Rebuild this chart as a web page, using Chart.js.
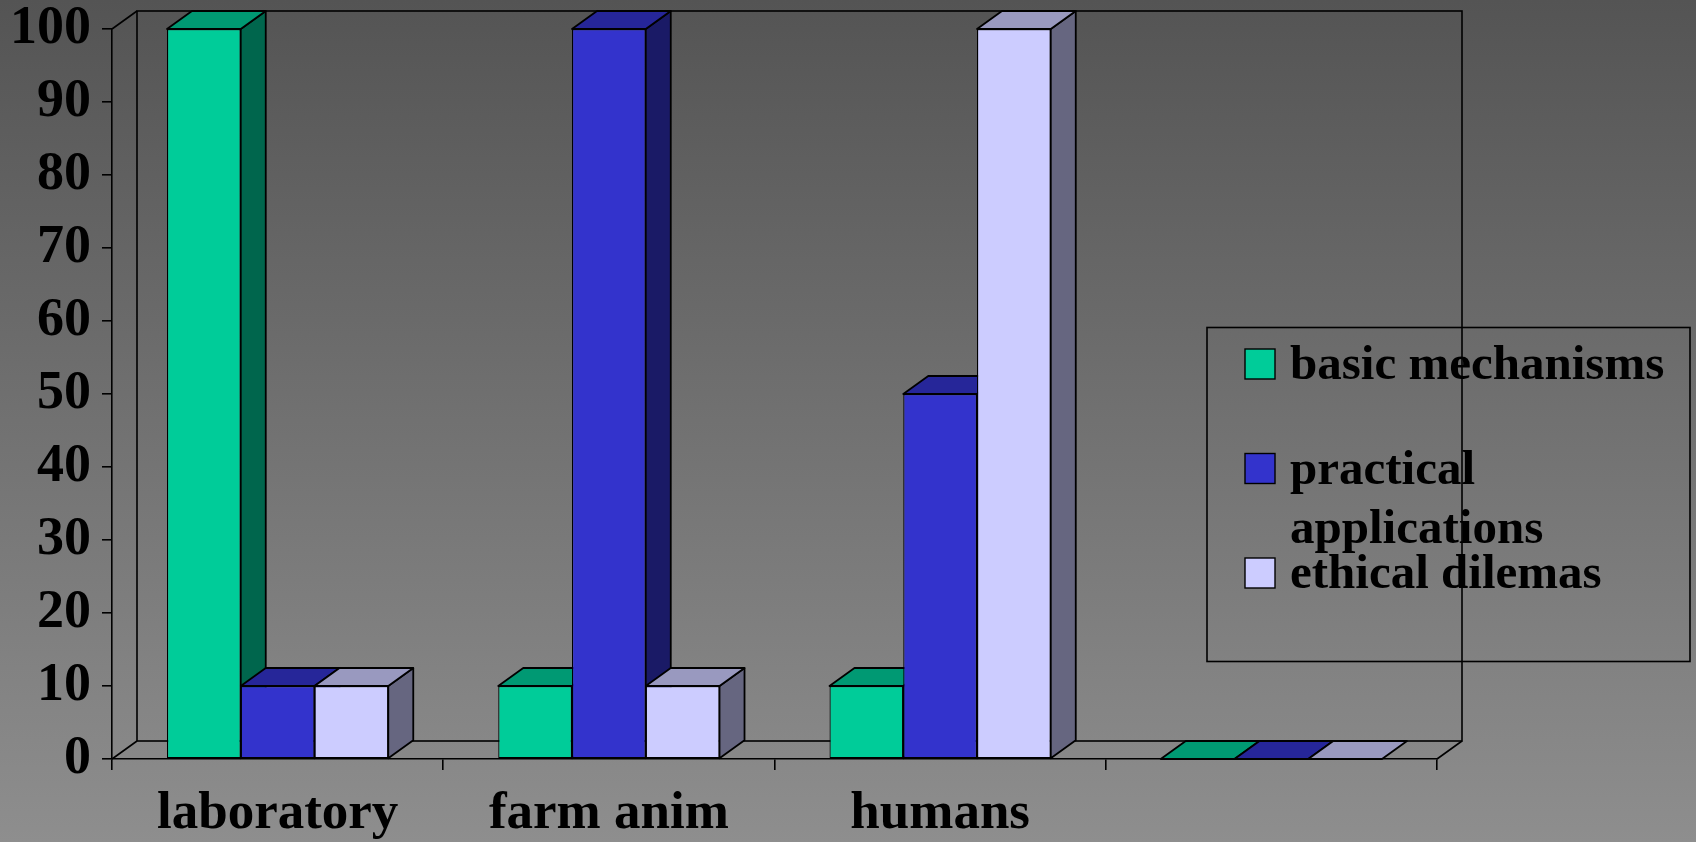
<!DOCTYPE html>
<html>
<head>
<meta charset="utf-8">
<script src="https://cdn.jsdelivr.net/npm/chart.js@4.4.1/dist/chart.umd.min.js"></script>
<style>
  html, body { margin: 0; padding: 0; }
  body {
    width: 1696px;
    height: 842px;
    overflow: hidden;
    background: linear-gradient(to bottom, #545454, #8e8e8e);
  }
</style>
</head>
<body>
<canvas id="graficaBarras" width="1696" height="842"></canvas>
<script>
// Categorias y valores de cada serie
const categorias = ["laboratory", "farm anim", "humans", ""];
const basicMechanisms = [100, 10, 10, 0];
const practicalApplications = [10, 100, 50, 0];
const ethicalDilemas = [10, 10, 100, 0];
const ticksY = [0, 10, 20, 30, 40, 50, 60, 70, 80, 90, 100];

// Colores: cara frontal, cara superior y cara lateral de cada serie
const coloresFrente = ["#00cc99", "#3333cc", "#ccccff"];
const coloresArriba = ["#009973", "#262699", "#9999bf"];
const coloresLado = ["#00664d", "#1a1a66", "#666680"];

const fuente = '"Liberation Serif", "Times New Roman", serif';
const prof = { dx: 25, dy: 18 }; // profundidad del efecto 3D

function poligono(ctx, puntos, relleno) {
  ctx.beginPath();
  ctx.moveTo(puntos[0][0], puntos[0][1]);
  for (let i = 1; i < puntos.length; i++) ctx.lineTo(puntos[i][0], puntos[i][1]);
  ctx.closePath();
  if (relleno) {
    ctx.fillStyle = relleno;
    ctx.fill();
  }
  ctx.stroke();
}

// Paredes y piso del grafico 3D
const paredes = {
  id: "paredes",
  beforeDraw(chart) {
    const { ctx, chartArea: ca } = chart;
    ctx.save();
    ctx.strokeStyle = "#000";
    ctx.lineWidth = 1.6;
    // pared del fondo
    ctx.strokeRect(ca.left + prof.dx, ca.top - prof.dy, ca.right - ca.left, ca.bottom - ca.top);
    ctx.beginPath();
    // pared izquierda
    ctx.moveTo(ca.left, ca.top);
    ctx.lineTo(ca.left + prof.dx, ca.top - prof.dy);
    ctx.moveTo(ca.left, ca.bottom);
    ctx.lineTo(ca.left + prof.dx, ca.bottom - prof.dy);
    // borde derecho del piso
    ctx.moveTo(ca.right, ca.bottom);
    ctx.lineTo(ca.right + prof.dx, ca.bottom - prof.dy);
    ctx.stroke();
    ctx.restore();
  },
};

// Caras superior y lateral de cada barra, de izquierda a derecha
const cubos = {
  id: "cubos",
  beforeDatasetsDraw(chart) {
    const ctx = chart.ctx;
    ctx.save();
    ctx.strokeStyle = "#000";
    ctx.lineWidth = 1.8;
    ctx.lineJoin = "round";
    for (let i = 0; i < chart.data.labels.length; i++) {
      chart.data.datasets.forEach((ds, d) => {
        const barra = chart.getDatasetMeta(d).data[i];
        const { x, y, base, width } = barra.getProps(["x", "y", "base", "width"], true);
        const izq = x - width / 2;
        const der = x + width / 2;
        if (base - y > 0.5) {
          poligono(ctx, [[der, y], [der + prof.dx, y - prof.dy], [der + prof.dx, base - prof.dy], [der, base]], coloresLado[d]);
        }
        poligono(ctx, [[izq, y], [der, y], [der + prof.dx, y - prof.dy], [izq + prof.dx, y - prof.dy]], coloresArriba[d]);
      });
    }
    ctx.restore();
  },
};

// Leyenda con cuadro y texto en varias lineas
const leyenda = {
  id: "leyenda",
  afterDraw(chart) {
    const ctx = chart.ctx;
    ctx.save();
    ctx.strokeStyle = "#000";
    ctx.lineWidth = 1.6;
    ctx.strokeRect(1207, 327.5, 483, 334);
    ctx.font = "bold 49px " + fuente;
    ctx.textBaseline = "alphabetic";
    ctx.textAlign = "left";
    let linea = 379;
    chart.data.datasets.forEach((ds, d) => {
      ctx.fillStyle = coloresFrente[d];
      ctx.fillRect(1245, linea - 30, 30, 30);
      ctx.lineWidth = 1.4;
      ctx.strokeRect(1245, linea - 30, 30, 30);
      // partir el texto si no cabe en el cuadro
      const palabras = ds.label.split(" ");
      const renglones = [];
      let actual = "";
      palabras.forEach((p) => {
        const prueba = actual ? actual + " " + p : p;
        if (ctx.measureText(prueba).width > 392 && actual) {
          renglones.push(actual);
          actual = p;
        } else {
          actual = prueba;
        }
      });
      renglones.push(actual);
      ctx.fillStyle = "#000";
      renglones.forEach((t, k) => ctx.fillText(t, 1290, linea + k * 59));
      linea += 104.5;
    });
    ctx.restore();
  },
};

const ctx = document.getElementById("graficaBarras");
const grafica = new Chart(ctx, {
  type: "bar",
  data: {
    labels: categorias,
    datasets: [
      { label: "basic mechanisms", data: basicMechanisms, backgroundColor: coloresFrente[0] },
      { label: "practical applications", data: practicalApplications, backgroundColor: coloresFrente[1] },
      { label: "ethical dilemas", data: ethicalDilemas, backgroundColor: coloresFrente[2] },
    ],
  },
  options: {
    responsive: false,
    animation: false,
    events: [],
    layout: { padding: { top: 29, right: 259, left: 0, bottom: 0 } },
    datasets: {
      bar: {
        borderColor: "#000",
        borderWidth: 1.2,
        borderSkipped: false,
        barPercentage: 1,
        categoryPercentage: 0.668,
        clip: false,
      },
    },
    plugins: {
      legend: { display: false },
      tooltip: { enabled: false },
    },
    scales: {
      x: {
        offset: true,
        grid: { offset: true, drawOnChartArea: false, color: "#000", lineWidth: 1.6, tickLength: 11 },
        border: { color: "#000", width: 1.6 },
        ticks: { color: "#000", padding: 13, maxRotation: 0, font: { family: fuente, size: 53, weight: "bold" } },
        afterFit: (scale) => {
          scale.height = 83;
        },
      },
      y: {
        min: 0,
        max: 100,
        afterBuildTicks: (scale) => {
          scale.ticks = ticksY.map((v) => ({ value: v }));
        },
        grid: { drawOnChartArea: false, color: "#000", lineWidth: 1.6, tickLength: 10 },
        border: { color: "#000", width: 1.6 },
        ticks: { color: "#000", padding: 11, font: { family: fuente, size: 54, weight: "bold", lineHeight: 1 } },
        afterFit: (scale) => {
          scale.width = 112;
          scale.paddingTop = 0;
          scale.paddingBottom = 0;
        },
      },
    },
  },
  plugins: [paredes, cubos, leyenda],
});
</script>
</body>
</html>
